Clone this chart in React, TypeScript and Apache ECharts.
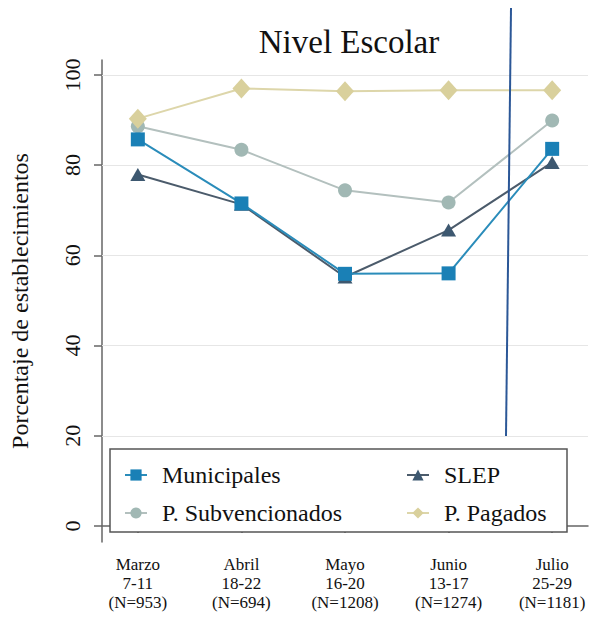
import React, { useEffect, useRef } from "react";
import * as echarts from "echarts";

const months = ["Marzo", "Abril", "Mayo", "Junio", "Julio"];
const dayRanges = ["7-11", "18-22", "16-20", "13-17", "25-29"];
const sampleSizes = [953, 694, 1208, 1274, 1181];

const municipales = [85.7, 71.5, 55.9, 56.0, 83.6];
const slep = [77.9, 71.3, 55.2, 65.6, 80.6];
const subvencionados = [88.6, 83.4, 74.4, 71.7, 89.9];
const pagados = [90.3, 97.0, 96.4, 96.6, 96.6];

const yTicks = [0, 20, 40, 60, 80, 100];
const gridValues = [20, 40, 60, 80, 100];

const FONT = "'Liberation Serif', 'Times New Roman', serif";

export default function App() {
  const ref = useRef<HTMLDivElement>(null);

  useEffect(() => {
    if (!ref.current) return;
    const chart = echarts.init(ref.current, null, { renderer: "svg" });
    const xs = months.map((_, i) => i + 1);
    const toData = (arr: number[]) => arr.map((v, i) => [xs[i], v]);

    const mkSeries = (
      name: string,
      arr: number[],
      color: string,
      lineColor: string,
      symbol: string,
      symbolSize: number | number[],
      z: number,
      extra: any = {}
    ) => ({
      name,
      type: "line",
      data: toData(arr),
      symbol,
      symbolSize,
      z,
      itemStyle: { color },
      lineStyle: { color: lineColor, width: 2 },
      emphasis: { disabled: true },
      ...extra,
    });

    const legendText = {
      fontFamily: FONT,
      fontSize: 24,
      lineHeight: 24,
      color: "#111",
      padding: [0, 0, 0, 10],
    };

    chart.setOption({
      animation: false,
      textStyle: { fontFamily: FONT },
      title: {
        text: "Nivel Escolar",
        left: 344,
        textAlign: "center",
        top: 20,
        textStyle: { fontFamily: FONT, fontSize: 33, fontWeight: "normal", color: "#111" },
      },
      grid: { left: 100, right: 3, top: 60, bottom: 78, containLabel: false },
      xAxis: {
        type: "value",
        min: 0.654,
        max: 5.346,
        axisLine: { show: true, lineStyle: { color: "#666", width: 1.5 } },
        axisTick: { show: true, length: 7, customValues: xs, lineStyle: { color: "#666", width: 1.5 } },
        splitLine: { show: false },
        axisLabel: {
          customValues: xs,
          margin: 13,
          fontFamily: FONT,
          fontSize: 17,
          lineHeight: 19,
          color: "#111",
          formatter: (v: number) => {
            const i = Math.round(v) - 1;
            return `${months[i]}\n${dayRanges[i]}\n(N=${sampleSizes[i]})`;
          },
        },
      },
      yAxis: {
        type: "value",
        min: -3.55,
        max: 103.3,
        name: "Porcentaje de establecimientos",
        nameLocation: "middle",
        nameGap: 70,
        nameTextStyle: { fontFamily: FONT, fontSize: 24, color: "#111" },
        axisLine: { show: true, lineStyle: { color: "#666", width: 1.5 } },
        axisTick: { show: true, length: 8, customValues: yTicks, lineStyle: { color: "#666", width: 1.5 } },
        splitLine: { show: false },
        axisLabel: {
          customValues: yTicks,
          rotate: 90,
          margin: 19,
          fontFamily: FONT,
          fontSize: 22,
          color: "#111",
        },
      },
      legend: [
        {
          data: ["Municipales", "P. Subvencionados"],
          orient: "vertical",
          left: 119,
          top: 458,
          itemWidth: 22,
          itemHeight: 14,
          itemGap: 14,
          selectedMode: false,
          textStyle: legendText,
        },
        {
          data: ["SLEP", "P. Pagados"],
          orient: "vertical",
          left: 401,
          top: 458,
          itemWidth: 22,
          itemHeight: 14,
          itemGap: 14,
          selectedMode: false,
          textStyle: legendText,
        },
      ],
      graphic: [
        {
          type: "rect",
          z: 3,
          shape: { x: 110, y: 449, width: 457, height: 83 },
          style: { fill: "#fff", stroke: "#555", lineWidth: 1.5 },
        },
        {
          type: "line",
          z: 10,
          shape: { x1: 511, y1: 8, x2: 506, y2: 436 },
          style: { stroke: "#2b5797", lineWidth: 2 },
        },
      ],
      series: [
        mkSeries("SLEP", slep, "#3d5870", "#4b5b6b", "triangle", [15, 13], 2, {
          markLine: {
            silent: true,
            symbol: "none",
            label: { show: false },
            lineStyle: { color: "#e6e6e6", type: "solid", width: 1 },
            data: gridValues.map((v) => ({ yAxis: v })),
            z: 1,
          },
        }),
        mkSeries("P. Subvencionados", subvencionados, "#a1b8b4", "#b3c0be", "circle", 14, 3),
        mkSeries("P. Pagados", pagados, "#d9d09c", "#ddd6aa", "diamond", [18, 20], 4),
        mkSeries("Municipales", municipales, "#1a80b6", "#2a8cba", "rect", 14, 5),
      ],
    });

    return () => chart.dispose();
  }, []);

  return (
    <div
      ref={ref}
      style={{ position: "fixed", left: 0, top: 0, width: 591, height: 620, background: "#fff" }}
    />
  );
}
